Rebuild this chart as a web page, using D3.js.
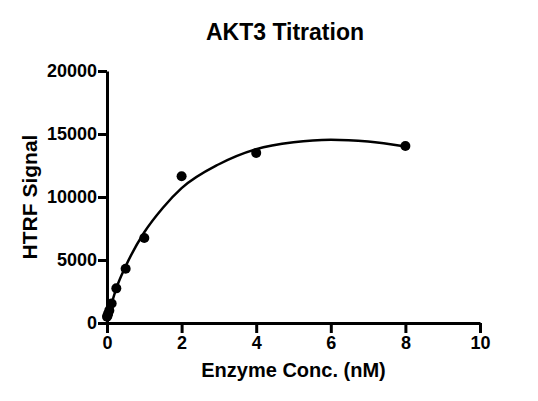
<!DOCTYPE html>
<html>
<head>
<meta charset="utf-8">
<script src="https://cdn.jsdelivr.net/npm/d3@7"></script>
<style>
  body { margin: 0; background: #fff; }
  text { font-family: "Liberation Sans", Arial, sans-serif; font-weight: bold; fill: #000; }
</style>
</head>
<body>
<div id="chart"></div>
<script>
// measured points (enzyme conc. nM, HTRF signal)
const concs = [0, 0.0156, 0.0313, 0.0625, 0.125, 0.25, 0.5, 1, 2, 4, 8]
const signals = [500, 600, 750, 1000, 1550, 2750, 4300, 6750, 11650, 13500, 14050]

// fitted curve
const fitX = [0, 0.125, 0.25, 0.5, 1, 1.5, 2, 3, 4, 5, 6, 7, 8]
const fitY = [150, 1550, 2750, 4500, 7200, 9150, 10700, 12600, 13800, 14350, 14550, 14400, 14000]

const xTicks = [0, 2, 4, 6, 8, 10]
const yTicks = [0, 5000, 10000, 15000, 20000]

const MARGIN = {TOP: 71, BOTTOM: 78, LEFT: 107, RIGHT: 58}
const W = 538, H = 401
const WIDTH = W - MARGIN.LEFT - MARGIN.RIGHT
const HEIGHT = H - MARGIN.TOP - MARGIN.BOTTOM

const svg = d3.select("#chart").append("svg")
    .attr("width", W)
    .attr("height", H)

const g = svg.append("g")
    .attr("transform", `translate(${MARGIN.LEFT},${MARGIN.TOP})`)

const x = d3.scaleLinear().domain([0, 10]).range([0, WIDTH])
const y = d3.scaleLinear().domain([0, 20000]).range([HEIGHT, 0])

const xAxis = g.append("g")
    .attr("transform", `translate(0,${HEIGHT})`)
    .call(d3.axisBottom(x).tickValues(xTicks).tickSize(10).tickSizeOuter(0).tickPadding(3))
const yAxis = g.append("g")
    .call(d3.axisLeft(y).tickValues(yTicks).tickFormat(d3.format("d")).tickSize(9).tickSizeOuter(0).tickPadding(1))

for (const ax of [xAxis, yAxis]) {
    ax.select(".domain").attr("stroke", "#000").attr("stroke-width", 3)
    ax.selectAll(".tick line").attr("stroke", "#000").attr("stroke-width", 3)
    ax.selectAll(".tick text")
        .attr("font-family", "Liberation Sans, Arial, sans-serif")
        .attr("font-weight", "bold")
        .attr("font-size", 18)
        .attr("fill", "#000")
}

// curve
const fit = fitX.map((v, i) => [v, fitY[i]])
g.append("path")
    .datum(fit)
    .attr("fill", "none")
    .attr("stroke", "#000")
    .attr("stroke-width", 2.5)
    .attr("d", d3.line().x(d => x(d[0])).y(d => y(d[1])).curve(d3.curveMonotoneX))

// points
g.selectAll("circle")
    .data(concs.map((c, i) => [c, signals[i]]))
    .enter().append("circle")
    .attr("cx", d => x(d[0]))
    .attr("cy", d => y(d[1]))
    .attr("r", 5)
    .attr("fill", "#000")

// titles
svg.append("text")
    .attr("x", 285).attr("y", 40)
    .attr("text-anchor", "middle")
    .attr("font-size", 23)
    .text("AKT3 Titration")

svg.append("text")
    .attr("x", MARGIN.LEFT + WIDTH / 2).attr("y", 377)
    .attr("text-anchor", "middle")
    .attr("font-size", 20)
    .text("Enzyme Conc. (nM)")

svg.append("text")
    .attr("transform", `translate(37,${MARGIN.TOP + HEIGHT / 2}) rotate(-90)`)
    .attr("text-anchor", "middle")
    .attr("font-size", 21)
    .text("HTRF Signal")
</script>
</body>
</html>
